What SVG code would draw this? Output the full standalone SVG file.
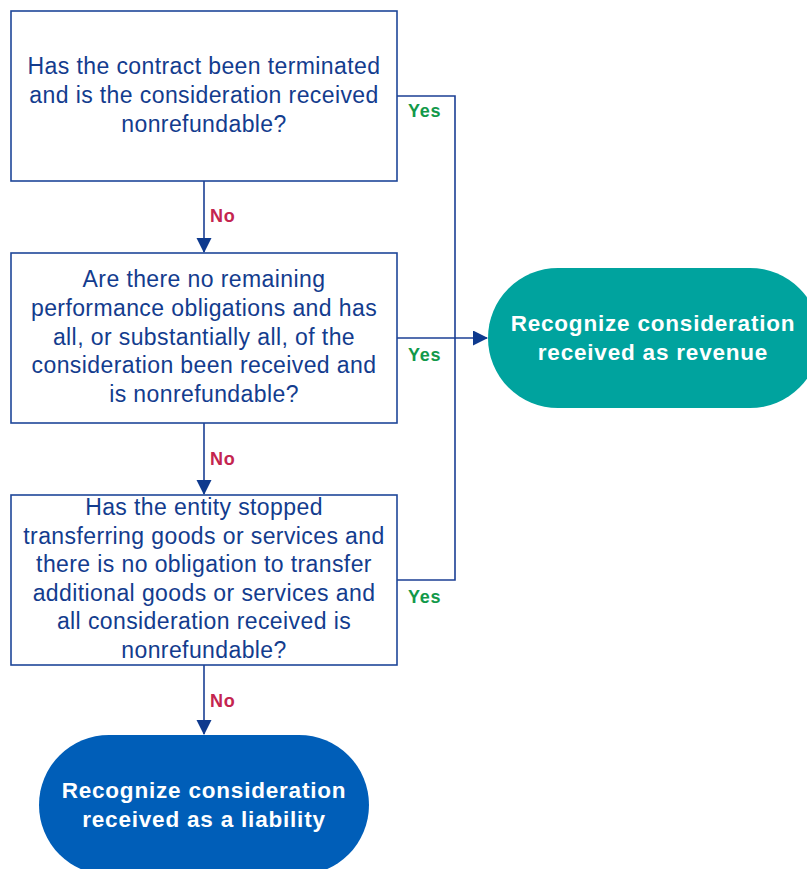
<svg xmlns="http://www.w3.org/2000/svg" width="807" height="869" viewBox="0 0 807 869">
<defs>
<marker id="arr" markerWidth="16" markerHeight="16" refX="14" refY="7.5" orient="auto" markerUnits="userSpaceOnUse">
<path d="M0,0 L15,7.5 L0,15 Z" fill="#0E3A8E"/>
</marker>
<style>
.box{fill:#fff;stroke:#1E4799;stroke-width:1.6}
.q{font-family:"Liberation Sans",Arial,sans-serif;font-size:23px;fill:#133C8E;text-anchor:middle;letter-spacing:0.4px}
.t{font-family:"Liberation Sans",Arial,sans-serif;font-size:22.5px;font-weight:bold;fill:#fff;text-anchor:middle;letter-spacing:0.8px}
.ln{fill:none;stroke:#1B3F94;stroke-width:1.6}
.no{font-family:"Liberation Sans",Arial,sans-serif;font-size:18px;font-weight:bold;fill:#C4254F;letter-spacing:0.8px}
.yes{font-family:"Liberation Sans",Arial,sans-serif;font-size:18px;font-weight:bold;fill:#12994A;letter-spacing:0.8px}
</style>
</defs>
<rect width="807" height="869" fill="#fff"/>
<g id="connectors">
<path class="ln" d="M204,181 V252" marker-end="url(#arr)"/>
<path class="ln" d="M204,423 V494" marker-end="url(#arr)"/>
<path class="ln" d="M204,665 V734" marker-end="url(#arr)"/>
<path class="ln" d="M397,96 H455 V580 H397"/>
<path class="ln" d="M397,338 H487" marker-end="url(#arr)"/>
<text class="no" x="210" y="222">No</text>
<text class="no" x="210" y="465">No</text>
<text class="no" x="210" y="707">No</text>
<text class="yes" x="408" y="117">Yes</text>
<text class="yes" x="408" y="361">Yes</text>
<text class="yes" x="408" y="603">Yes</text>
</g>
<g id="q1">
<rect class="box" x="11" y="11" width="386" height="170"/>
<text class="q" x="204" y="74">Has the contract been terminated</text>
<text class="q" x="204" y="103">and is the consideration received</text>
<text class="q" x="204" y="132">nonrefundable?</text>
</g>
<g id="q2">
<rect class="box" x="11" y="253" width="386" height="170"/>
<text class="q" x="204" y="287">Are there no remaining</text>
<text class="q" x="204" y="316">performance obligations and has</text>
<text class="q" x="204" y="345">all, or substantially all, of the</text>
<text class="q" x="204" y="373">consideration been received and</text>
<text class="q" x="204" y="402">is nonrefundable?</text>
</g>
<g id="q3">
<rect class="box" x="11" y="495" width="386" height="170"/>
<text class="q" x="204" y="515">Has the entity stopped</text>
<text class="q" x="204" y="544">transferring goods or services and</text>
<text class="q" x="204" y="572">there is no obligation to transfer</text>
<text class="q" x="204" y="601">additional goods or services and</text>
<text class="q" x="204" y="629">all consideration received is</text>
<text class="q" x="204" y="658">nonrefundable?</text>
</g>
<g id="revenue">
<rect x="488" y="268" width="332" height="140" rx="70" ry="70" fill="#00A39E"/>
<text class="t" x="653" y="331">Recognize consideration</text>
<text class="t" x="653" y="360">received as revenue</text>
</g>
<g id="liability">
<rect x="39" y="735" width="330" height="140" rx="70" ry="70" fill="#005EB8"/>
<text class="t" x="204" y="798">Recognize consideration</text>
<text class="t" x="204" y="827">received as a liability</text>
</g>
</svg>
